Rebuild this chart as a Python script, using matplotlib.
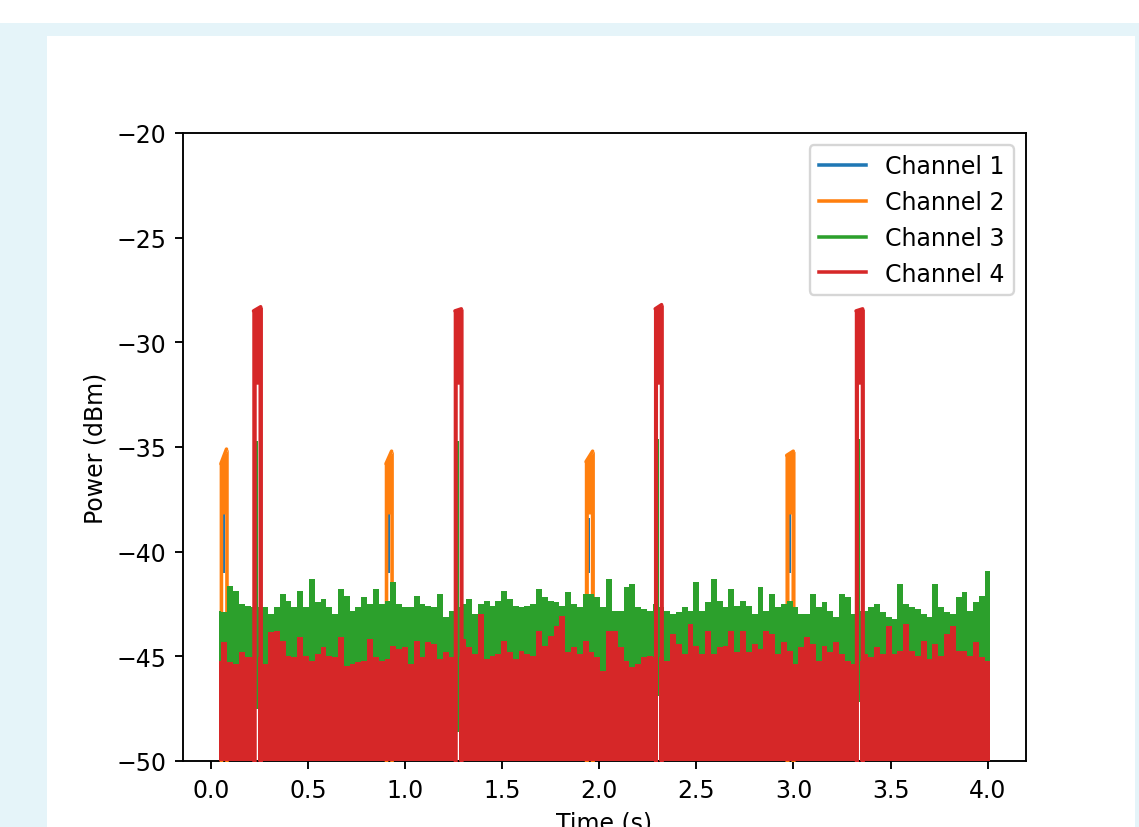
import numpy as np
import matplotlib
matplotlib.use("Agg")
import matplotlib.pyplot as plt
from matplotlib.lines import Line2D
from matplotlib.patches import Rectangle

# ---------------- data ----------------
channels = ["Channel 1", "Channel 2", "Channel 3", "Channel 4"]
colors = ["#1f77b4", "#ff7f0e", "#2ca02c", "#d62728"]

t_first, t_last = 0.043, 4.012          # first / last sample time (s)
bin_start, bin_step = 0.04, 0.03          # centres of the envelope bins

# upper envelope of the noise floor, Channel 3 (dBm)
ch3_floor = [
    -42.82, -42.90, -41.63, -41.86, -42.50, -42.58, -42.66, -42.66, -42.66, -42.98,
    -42.66, -42.02, -42.34, -42.66, -41.86, -42.66, -41.31, -42.42, -42.26, -42.66,
    -42.98, -41.78, -42.10, -42.82, -42.66, -42.18, -42.50, -41.78, -42.50, -42.34,
    -41.47, -42.50, -42.66, -42.66, -42.10, -42.50, -42.58, -42.66, -42.02, -43.14,
    -42.82, -42.66, -42.50, -42.26, -42.98, -42.50, -42.34, -42.58, -42.34, -41.86,
    -42.26, -42.58, -42.66, -42.58, -42.50, -41.78, -42.18, -42.34, -42.42, -42.58,
    -41.94, -42.50, -42.66, -42.02, -42.02, -42.18, -42.66, -41.31, -42.82, -42.82,
    -41.70, -41.55, -42.66, -42.74, -42.82, -42.50, -42.66, -42.82, -42.98, -42.90,
    -42.66, -42.82, -41.47, -42.82, -42.42, -41.31, -42.34, -42.66, -41.78, -42.58,
    -42.34, -42.58, -42.98, -41.70, -42.82, -42.02, -42.66, -42.50, -42.34, -42.66,
    -42.98, -42.98, -42.02, -42.66, -42.42, -42.82, -43.14, -42.02, -42.18, -42.98,
    -42.82, -42.82, -42.66, -42.50, -42.90, -43.14, -43.22, -41.55, -42.50, -42.66,
    -42.74, -42.98, -43.14, -41.55, -42.66, -42.90, -42.98, -42.18, -41.94, -42.82,
    -42.42, -42.10, -40.91,
]

# upper envelope of the noise floor, Channel 4 (dBm)
ch4_floor = [
    -45.21, -44.33, -45.29, -45.37, -44.81, -45.05, -45.05, -45.05, -45.37, -43.85,
    -43.77, -44.25, -44.97, -45.05, -44.09, -44.97, -45.21, -44.89, -44.57, -44.97,
    -45.05, -44.09, -45.45, -45.37, -45.29, -45.21, -44.17, -45.05, -45.21, -45.13,
    -44.49, -44.65, -44.57, -45.37, -44.25, -45.05, -44.33, -44.41, -45.13, -44.81,
    -45.05, -45.05, -44.17, -44.57, -44.89, -43.00, -45.13, -44.97, -44.89, -44.25,
    -44.81, -45.13, -44.73, -44.89, -44.97, -43.77, -44.49, -44.01, -43.54, -43.06,
    -44.81, -44.57, -44.89, -44.25, -44.81, -45.05, -45.69, -43.77, -43.77, -44.57,
    -45.21, -45.53, -45.37, -45.05, -44.97, -45.05, -45.05, -45.21, -43.93, -44.41,
    -44.89, -43.46, -44.49, -44.89, -43.77, -44.89, -44.57, -44.49, -43.77, -44.81,
    -43.77, -44.81, -44.41, -44.65, -43.77, -43.93, -44.89, -44.33, -44.73, -45.37,
    -44.57, -44.09, -44.41, -45.21, -44.49, -44.81, -44.33, -44.89, -45.21, -45.37,
    -45.21, -44.89, -45.05, -44.57, -44.89, -43.54, -44.89, -44.73, -43.46, -44.73,
    -44.97, -44.25, -45.13, -44.41, -44.97, -43.93, -43.54, -44.73, -44.73, -44.97,
    -44.33, -45.05, -45.21,
]
noise_bottom = -55.0   # noise reaches below the visible range

# Channel 2 pulses (orange) and Channel 1 (blue) inside them
ch2_start = [0.043, 0.893, 1.923, 2.956]
ch2_end = [0.090, 0.940, 1.975, 3.008]
ch2_top_left = [-35.8, -35.8, -35.7, -35.4]
ch2_top_right = [-35.1, -35.2, -35.2, -35.2]
ch2_inner = -38.2
ch2_gap = 0.010
ch1_top = [-38.0, -38.0, -38.4, -38.0]
ch1_bottom = [-41.0, -41.0, -41.0, -41.0]

# Channel 4 pulses (red) and Channel 3 (green) inside them
ch4_start = [0.211, 1.248, 2.279, 3.313]
ch4_end = [0.266, 1.299, 2.330, 3.365]
ch4_top_left = [-28.5, -28.5, -28.4, -28.5]
ch4_top_right = [-28.3, -28.4, -28.2, -28.4]
ch4_inner = -32.0
ch4_gap = 0.009
ch3_spike_top = [-34.7, -34.7, -34.6, -34.6]
ch3_spike_bottom = [-47.5, -48.6, -46.9, -47.2]

xticks = [0.0, 0.5, 1.0, 1.5, 2.0, 2.5, 3.0, 3.5, 4.0]
yticks = [-50, -45, -40, -35, -30, -25, -20]

LW = 1.5


# ---------------- helpers ----------------
def floor_edges(n):
    centres = bin_start + bin_step * np.arange(n)
    inner = centres[:-1] + bin_step / 2
    return np.concatenate([[t_first], inner, [t_last]])


def with_cuts(edges, vals, cuts):
    e = np.unique(np.concatenate([edges, np.ravel(cuts)]))
    mids = 0.5 * (e[:-1] + e[1:])
    idx = np.clip(np.searchsorted(edges, mids) - 1, 0, len(vals) - 1)
    v = np.asarray(vals, float)[idx]
    for a, b in cuts:
        v[(mids > a) & (mids < b)] = np.nan
    return e, v


def step_xy(edges, vals):
    return np.repeat(edges, 2)[1:-1], np.repeat(vals, 2)


def pulse(ax, s0, s1, tl, tr, inner, gap, color, z, half_lw_t):
    c = 0.5 * (s0 + s1)
    g0, g1 = c - gap / 2, c + gap / 2
    x = np.array([s0, g0, g0, g1, g1, s1])
    low = np.array([noise_bottom, noise_bottom, inner, inner, noise_bottom, noise_bottom])
    high = np.interp(x, [s0, s1], [tl, tr])
    ax.fill_between(x, low, high, color=color, lw=0, zorder=z)
    # rounded stroke along the top of the pulse, as a line plot would give
    ax.plot([s0 + half_lw_t, s1 - half_lw_t], [tl, tr], color=color, lw=LW,
            solid_capstyle="round", zorder=z)


# ---------------- figure ----------------
W, H, DPI = 1139, 828, 170
fig = plt.figure(figsize=(W / DPI, H / DPI), dpi=DPI, facecolor="white")
fig.patches.append(Rectangle((0, 0), 1, 1 - 24 / H, transform=fig.transFigure,
                             facecolor="#e5f4f9", edgecolor="none", zorder=-10))
fig.patches.append(Rectangle((47 / W, 0), (1135 - 47) / W, 1 - 37 / H,
                             transform=fig.transFigure, facecolor="white",
                             edgecolor="none", zorder=-9))

ax = fig.add_axes([183 / W, 1 - 762 / H, (1026 - 183) / W, (762 - 134) / H])
ax.set_xlim(-0.143, 4.197)
ax.set_ylim(-50, -20)

# half of the line width expressed in time units
px_per_s = (1026 - 183) / (4.197 + 0.143)
half_lw_t = (LW / 72 * DPI / 2) / px_per_s

n = len(ch4_floor)
edges = floor_edges(n)

red_gaps = []
for s0, s1 in zip(ch4_start, ch4_end):
    c = 0.5 * (s0 + s1)
    red_gaps.append((c - ch4_gap / 2, c + ch4_gap / 2))

# Channel 1 (blue) and Channel 2 (orange) pulses
for i in range(len(ch2_start)):
    c = 0.5 * (ch2_start[i] + ch2_end[i])
    ax.fill_between([c - ch2_gap / 2, c + ch2_gap / 2], [ch1_bottom[i]] * 2,
                    [ch1_top[i]] * 2, color=colors[0], lw=0, zorder=2)
for i in range(len(ch2_start)):
    pulse(ax, ch2_start[i], ch2_end[i], ch2_top_left[i], ch2_top_right[i],
          ch2_inner, ch2_gap, colors[1], 3, half_lw_t)

# Channel 3 (green) noise floor and thin pulses
e3, v3 = with_cuts(edges, ch3_floor, red_gaps)
x3, y3 = step_xy(e3, v3)
ax.fill_between(x3, noise_bottom, y3, color=colors[2], lw=0, zorder=4)
for i, (g0, g1) in enumerate(red_gaps):
    ax.fill_between([g0, g1], [ch3_spike_bottom[i]] * 2, [ch3_spike_top[i]] * 2,
                    color=colors[2], lw=0, zorder=4)

# Channel 4 (red) noise floor and pulses
e4, v4 = with_cuts(edges, ch4_floor, red_gaps)
x4, y4 = step_xy(e4, v4)
ax.fill_between(x4, noise_bottom, y4, color=colors[3], lw=0, zorder=5)
for i in range(len(ch4_start)):
    pulse(ax, ch4_start[i], ch4_end[i], ch4_top_left[i], ch4_top_right[i],
          ch4_inner, ch4_gap, colors[3], 5, half_lw_t)

ax.set_xticks(xticks)
ax.set_yticks(yticks)
ax.set_xlabel("Time (s)")
ax.set_ylabel("Power (dBm)")

handles = [Line2D([], [], color=c, lw=LW, label=l) for c, l in zip(colors, channels)]
ax.legend(handles=handles, loc="upper right")

fig.savefig("out.png", dpi=DPI, facecolor=fig.get_facecolor())
